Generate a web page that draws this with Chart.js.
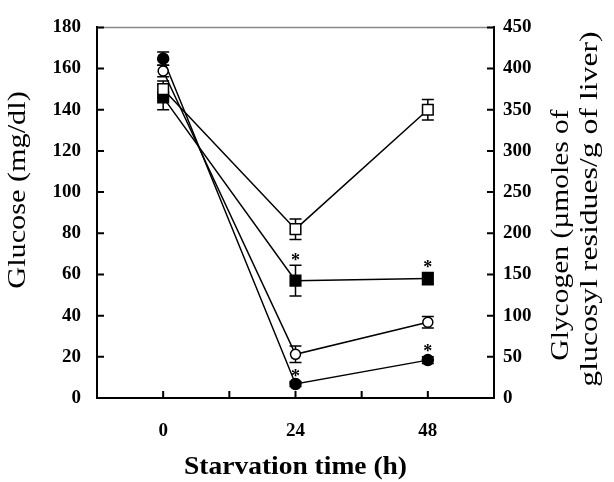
<!DOCTYPE html>
<html>
<head>
<meta charset="utf-8">
<script src="https://cdn.jsdelivr.net/npm/chart.js@4"></script>
<style>
  body { margin: 0; background: #fff; }
  #wrap { width: 614px; height: 482px; position: relative; }
</style>
</head>
<body>
<div id="wrap"><canvas id="chart"></canvas></div>
<script>
// Starvation time points (h)
const timePoints = [0, 24, 48];
const xTickLabels = [0, 24, 48];

// Glucose (mg/dl), left axis
const glucoseOpen = [150, 82, 140];
const glucoseOpenErr = [4, 5, 5];
const glucoseFilled = [146, 57, 58];
const glucoseFilledErr = [6, 7.5, 3];

// Glycogen (umoles glucosyl residues / g liver), right axis
const glycogenOpen = [397, 53, 92];
const glycogenOpenErr = [7, 10, 7];
const glycogenFilled = [412, 17, 46];
const glycogenFilledErr = [8, 3, 4];

// significance marks (index into timePoints)
const glucoseFilledStars = [1, 2];
const glycogenFilledStars = [1, 2];

const serif = '"Liberation Serif", "Times New Roman", serif';

function toPoints(values) {
  return timePoints.map((t, i) => ({ x: t, y: values[i] }));
}

function makeSet(label, values, axis, style, filled, radius, errors, stars) {
  return {
    label: label,
    data: toPoints(values),
    yAxisID: axis,
    borderColor: '#000',
    borderWidth: 1.5,
    pointStyle: style,
    pointRadius: radius,
    pointBorderWidth: 1.5,
    pointBorderColor: '#000',
    pointBackgroundColor: filled ? '#000' : '#fff',
    errors: errors,
    stars: stars || []
  };
}

// text a bit wider than the font draws it (the original figure is stretched)
function stretchedText(ctx, text, x, y, angle, stretch) {
  ctx.save();
  ctx.translate(x, y);
  ctx.rotate(angle);
  ctx.scale(stretch, 1);
  ctx.fillText(text, 0, 0);
  ctx.restore();
}

// draws error bars, asterisks, inward tick marks, frame and axis titles
const decorPlugin = {
  id: 'decor',
  beforeDatasetsDraw(chart) {
    const ctx = chart.ctx;
    ctx.save();
    ctx.strokeStyle = '#000';
    ctx.lineWidth = 1.5;
    chart.data.datasets.forEach((ds) => {
      const yScale = chart.scales[ds.yAxisID];
      const xScale = chart.scales.x;
      ds.data.forEach((p, i) => {
        const err = ds.errors[i];
        const px = xScale.getPixelForValue(p.x);
        const top = yScale.getPixelForValue(p.y + err);
        const bot = yScale.getPixelForValue(p.y - err);
        ctx.beginPath();
        ctx.moveTo(px, top); ctx.lineTo(px, bot);
        ctx.moveTo(px - 6, top); ctx.lineTo(px + 6, top);
        ctx.moveTo(px - 6, bot); ctx.lineTo(px + 6, bot);
        ctx.stroke();
      });
    });
    ctx.restore();
  },
  afterDraw(chart) {
    const ctx = chart.ctx;
    const area = chart.chartArea;
    const x = chart.scales.x, y = chart.scales.y, y2 = chart.scales.y2;
    ctx.save();

    // asterisks
    ctx.fillStyle = '#000';
    ctx.font = 'bold 18px ' + serif;
    ctx.textAlign = 'center';
    ctx.textBaseline = 'middle';
    chart.data.datasets.forEach((ds) => {
      const yScale = chart.scales[ds.yAxisID];
      ds.stars.forEach((i) => {
        const p = ds.data[i];
        const px = x.getPixelForValue(p.x);
        const py = yScale.getPixelForValue(p.y + ds.errors[i]);
        ctx.fillText('*', px, py - 4);
      });
    });

    // top frame line
    ctx.strokeStyle = '#888';
    ctx.lineWidth = 1.5;
    ctx.beginPath();
    ctx.moveTo(area.left, area.top);
    ctx.lineTo(area.right, area.top);
    ctx.stroke();

    // inward tick marks
    ctx.strokeStyle = '#000';
    ctx.lineWidth = 2;
    ctx.beginPath();
    y.ticks.forEach((t) => {
      const py = y.getPixelForValue(t.value);
      ctx.moveTo(area.left, py); ctx.lineTo(area.left + 7, py);
    });
    y2.ticks.forEach((t) => {
      const py = y2.getPixelForValue(t.value);
      ctx.moveTo(area.right, py); ctx.lineTo(area.right - 7, py);
    });
    x.ticks.forEach((t) => {
      const px = x.getPixelForValue(t.value);
      ctx.moveTo(px, area.bottom); ctx.lineTo(px, area.bottom - 7);
    });
    ctx.stroke();

    // axis titles
    ctx.textBaseline = 'middle';
    ctx.font = 'bold 25px ' + serif;
    stretchedText(ctx, 'Starvation time (h)', (area.left + area.right) / 2, 468, 0, 1.1);

    ctx.font = '25px ' + serif;
    stretchedText(ctx, 'Glucose (mg/dl)', 18, 190, -Math.PI / 2, 1.21);
    stretchedText(ctx, 'Glycogen (\u00b5moles of', 561, 235, -Math.PI / 2, 1.18);
    stretchedText(ctx, 'glucosyl residues/g of liver)', 590, 209, -Math.PI / 2, 1.27);

    ctx.restore();
  }
};

const tickFont = { family: serif, size: 19, weight: 'bold' };

new Chart(document.getElementById('chart'), {
  type: 'line',
  data: {
    datasets: [
      makeSet('Glucose open', glucoseOpen, 'y', 'rect', false, 7.5, glucoseOpenErr),
      makeSet('Glucose filled', glucoseFilled, 'y', 'rect', true, 7.5, glucoseFilledErr, glucoseFilledStars),
      makeSet('Glycogen open', glycogenOpen, 'y2', 'circle', false, 5, glycogenOpenErr),
      makeSet('Glycogen filled', glycogenFilled, 'y2', 'circle', true, 5.5, glycogenFilledErr, glycogenFilledStars)
    ]
  },
  options: {
    responsive: true,
    maintainAspectRatio: false,
    animation: false,
    layout: { padding: { top: 18, left: 0, right: 0, bottom: 0 } },
    plugins: { legend: { display: false }, tooltip: { enabled: false } },
    scales: {
      x: {
        type: 'linear',
        min: -12,
        max: 60,
        grid: { display: false, drawTicks: false },
        border: { display: true, color: '#000', width: 2 },
        ticks: {
          stepSize: 12,
          color: '#000',
          font: tickFont,
          padding: 22,
          maxRotation: 0,
          callback: (v) => xTickLabels.includes(v) ? String(v) : ''
        },
        afterFit: (s) => { s.height = 84; }
      },
      y: {
        position: 'left',
        min: 0,
        max: 180,
        grid: { display: false, drawTicks: false },
        border: { display: true, color: '#000', width: 2 },
        ticks: { stepSize: 20, color: '#000', font: tickFont, padding: 16 },
        afterFit: (s) => { s.width = 97; }
      },
      y2: {
        position: 'right',
        min: 0,
        max: 450,
        grid: { display: false, drawTicks: false },
        border: { display: true, color: '#000', width: 2 },
        ticks: { stepSize: 50, color: '#000', font: tickFont, padding: 9 },
        afterFit: (s) => { s.width = 120; }
      }
    }
  },
  plugins: [decorPlugin]
});
</script>
</body>
</html>
